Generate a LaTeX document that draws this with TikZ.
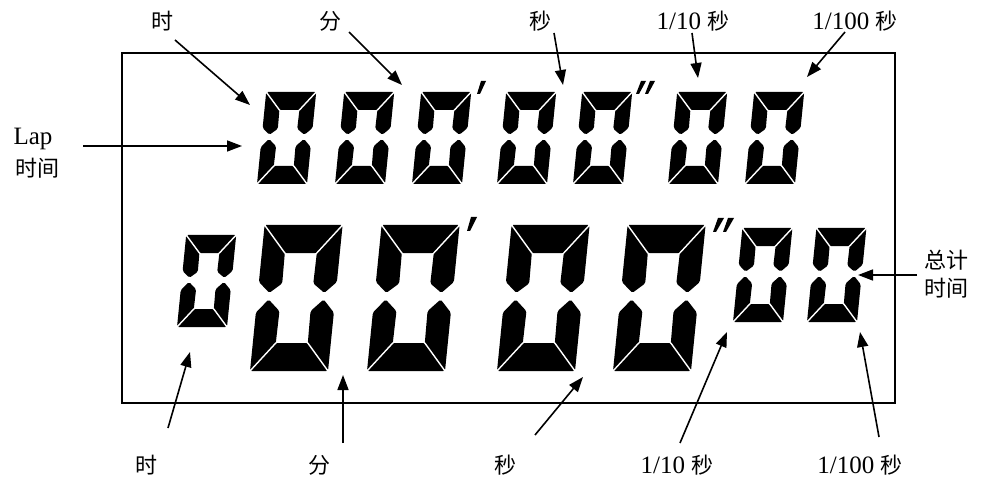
\documentclass[tikz,border=0pt]{standalone}
\usepackage{fontspec}
\setmainfont{Liberation Serif}
\newfontfamily\cjk{Noto Sans CJK SC}
\usetikzlibrary{arrows.meta}
\newcommand\zh{\cjk\fontsize{22}{26}\selectfont}
% #1 x0, #2 Y0 (bottom), #3 w, #4 h, #5 th, #6 tv
\newcommand\lcdzero[6]{%
 \begin{scope}[shift={(#1,#2)}, xslant=0.1]
  \fill[segfill] (0,#4) -- (#3,#4) -- ({#3-#6},{#4-#5}) -- (#6,{#4-#5}) -- cycle;
  \fill[segfill] (0,0) -- (#3,0) -- ({#3-#6},#5) -- (#6,#5) -- cycle;
  \fill[segfill] (0,#4) -- (#6,{#4-#5}) -- ({1.02*#6},{0.6*#4}) -- ({0.5*#6},{0.535*#4}) -- (0,{0.61*#4}) -- cycle;
  \fill[segfill] (0,0) -- (#6,#5) -- ({1.02*#6},{0.41*#4}) -- ({0.5*#6},{0.49*#4}) -- (0,{0.40*#4}) -- cycle;
  \fill[segfill] (#3,#4) -- ({#3-#6},{#4-#5}) -- ({#3-1.02*#6},{0.6*#4}) -- ({#3-0.5*#6},{0.535*#4}) -- (#3,{0.61*#4}) -- cycle;
  \fill[segfill] (#3,0) -- ({#3-#6},#5) -- ({#3-1.02*#6},{0.41*#4}) -- ({#3-0.5*#6},{0.49*#4}) -- (#3,{0.40*#4}) -- cycle;
  \draw[gapline] (#6,{#4-#5}) -- ({-0.25*#6},{#4+0.25*#5});
  \draw[gapline] ({#3-#6},{#4-#5}) -- ({#3+0.25*#6},{#4+0.25*#5});
  \draw[gapline] (#6,#5) -- ({-0.25*#6},{-0.25*#5});
  \draw[gapline] ({#3-#6},#5) -- ({#3+0.25*#6},{-0.25*#5});
 \end{scope}}
\tikzset{
 segfill/.style={black, rounded corners=1.6pt},
 gapline/.style={white, line width=1.4pt},
 ptr/.style={-{Triangle[length=15pt,width=11pt]}, line width=1.6pt},
 lbl/.style={font=\fontsize{25}{28}\selectfont, inner sep=0pt},
 frame/.style={line width=2.4pt}
}
\begin{document}
\begin{tikzpicture}[x=1pt,y=1pt]
\useasboundingbox (0,0) rectangle (984,477);
\draw[frame] (122,74) rectangle (895,424);
% top row digits
\foreach \xx in {257,335,412,497,573,668,745}{\lcdzero{\xx}{293}{50}{92}{18}{15}}
\fill (481,396) -- (486,396) -- (480,383) -- (477,383) -- cycle;
\fill (641,396) -- (646,396) -- (639,383) -- (636,383) -- cycle;
\fill (650,396) -- (655,396) -- (648,383) -- (645,383) -- cycle;
% bottom row digits
\lcdzero{177}{150}{50}{92}{18}{15}
\foreach \xx in {250,367,497,613}{\lcdzero{\xx}{106}{78}{146}{28}{23}}
\lcdzero{733}{155}{50}{94}{18}{15}
\lcdzero{807}{155}{50}{94}{18}{15}
\fill (471,260) -- (477,260) -- (470,246) -- (467,246) -- cycle;
\fill (718,259) -- (724,259) -- (716,245) -- (713,245) -- cycle;
\fill (728,259) -- (734,259) -- (726,245) -- (723,245) -- cycle;
% top labels
\node[lbl] (tH) at (162,456) {\zh 时};
\node[lbl] (tM) at (330,456) {\zh 分};
\node[lbl] (tS) at (540,456) {\zh 秒};
\node[lbl] (tT) at (693,456) {1/10 {\zh 秒}};
\node[lbl] (tC) at (855,456) {1/100 {\zh 秒}};
\coordinate (tHs) at (175,437); \coordinate (tHe) at (250,372);
\coordinate (tMs) at (349,445); \coordinate (tMe) at (402,392);
\coordinate (tSs) at (554,444); \coordinate (tSe) at (563,392);
\coordinate (tTs) at (692,444); \coordinate (tTe) at (698,399);
\coordinate (tCs) at (845,445); \coordinate (tCe) at (807,400);
\draw[ptr] (tHs) -- (tHe);
\draw[ptr] (tMs) -- (tMe);
\draw[ptr] (tSs) -- (tSe);
\draw[ptr] (tTs) -- (tTe);
\draw[ptr] (tCs) -- (tCe);
% lap label
\node[lbl] (lap) at (33,338) {Lap};
\node[lbl] (lapzh) at (38,309) {\zh 时间};
\coordinate (lapS) at (83,331); \coordinate (lapE) at (242,331);
\draw[ptr] (lapS) -- (lapE);
% total label
\node[lbl] (tot1) at (946,217) {\zh 总计};
\node[lbl] (tot2) at (946,189) {\zh 时间};
\coordinate (totS) at (917,202); \coordinate (totE) at (858,202);
\draw[ptr] (totS) -- (totE);
% bottom labels
\node[lbl] (bH) at (146,12) {\zh 时};
\node[lbl] (bM) at (319,12) {\zh 分};
\node[lbl] (bS) at (505,12) {\zh 秒};
\node[lbl] (bT) at (677,12) {1/10 {\zh 秒}};
\node[lbl] (bC) at (860,12) {1/100 {\zh 秒}};
\coordinate (bHs) at (168,49); \coordinate (bHe) at (190,125);
\coordinate (bMs) at (343,34); \coordinate (bMe) at (343,102);
\coordinate (bSs) at (535,42); \coordinate (bSe) at (583,100);
\coordinate (bTs) at (680,34); \coordinate (bTe) at (727,145);
\coordinate (bCs) at (879,40); \coordinate (bCe) at (860,145);
\draw[ptr] (bHs) -- (bHe);
\draw[ptr] (bMs) -- (bMe);
\draw[ptr] (bSs) -- (bSe);
\draw[ptr] (bTs) -- (bTe);
\draw[ptr] (bCs) -- (bCe);
\end{tikzpicture}
\end{document}
